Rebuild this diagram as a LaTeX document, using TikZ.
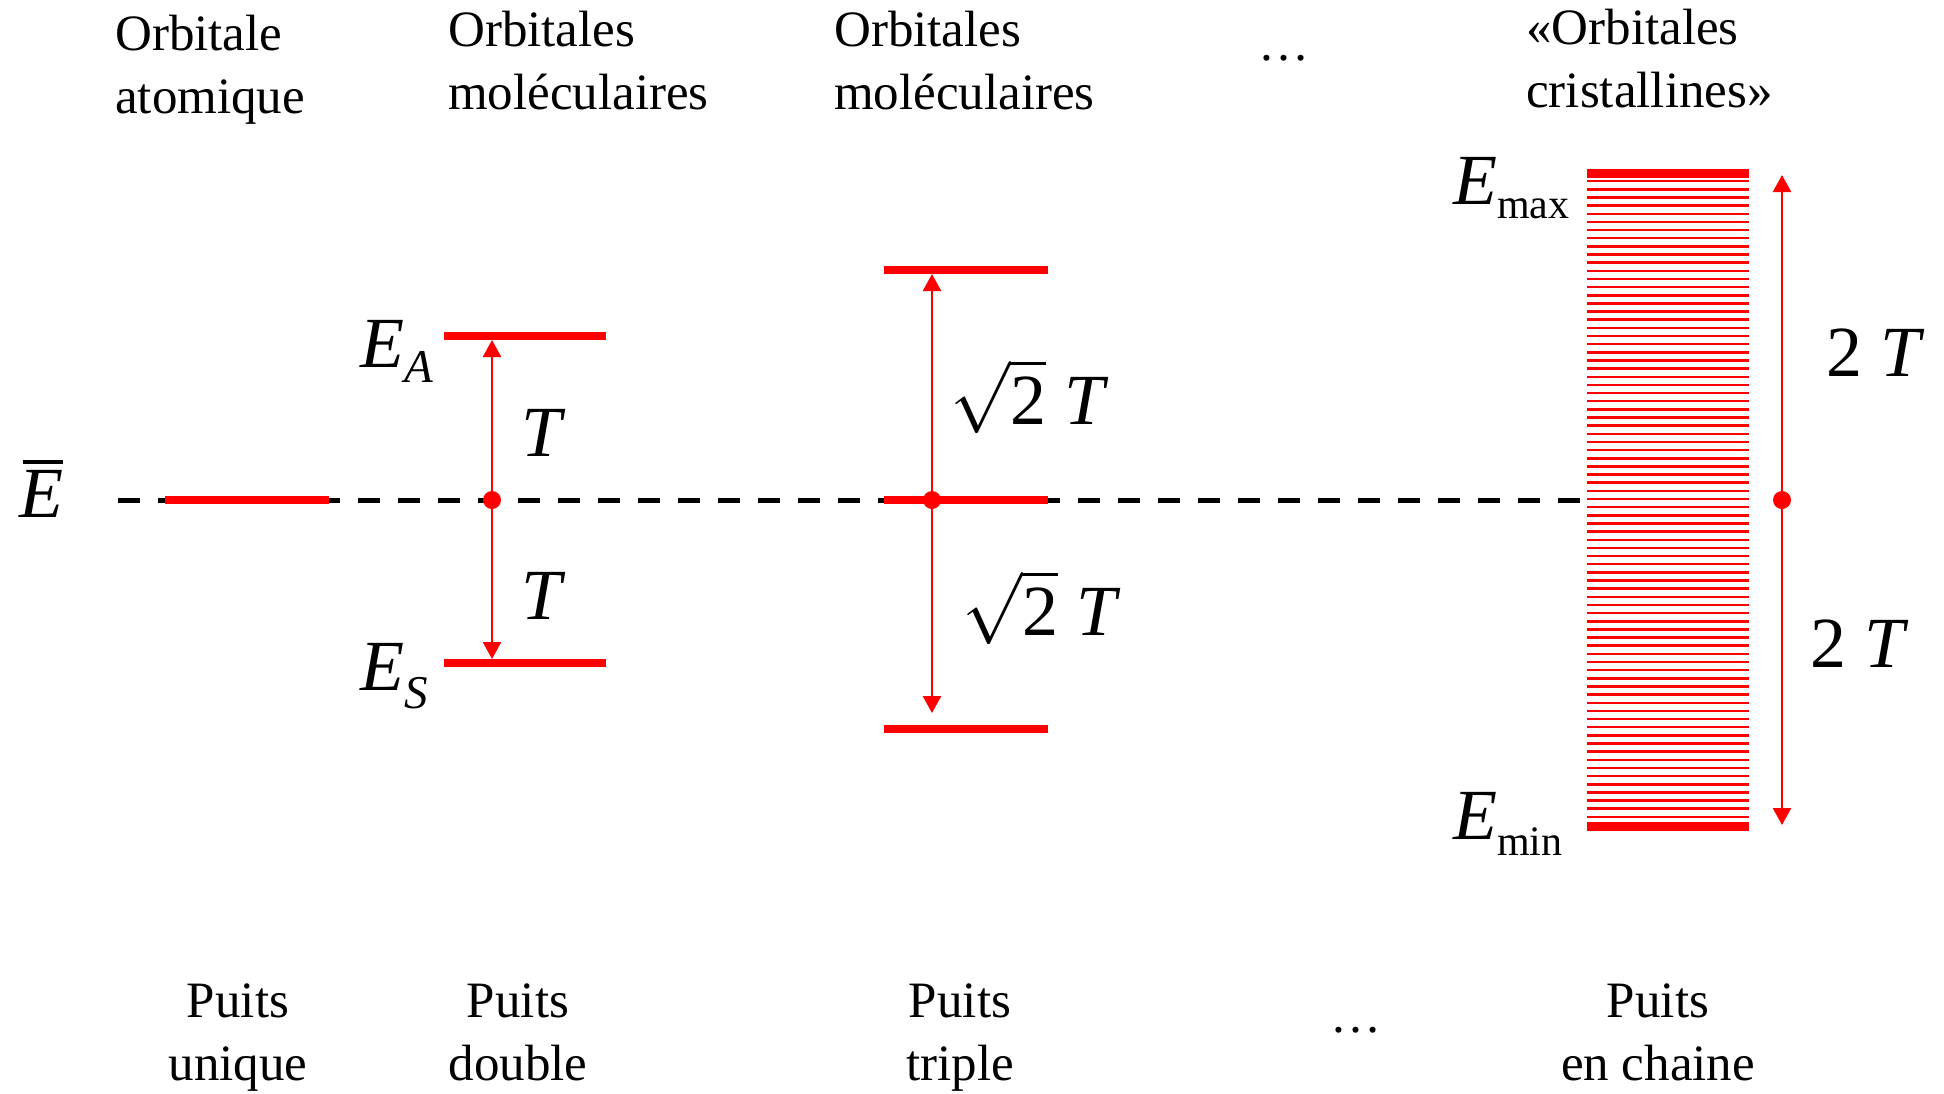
\RequirePackage{fix-cm}
\documentclass[tikz,border=0pt]{standalone}
\usepackage{amsmath}
\usepackage{fontspec}
\setmainfont{Liberation Serif}
\usetikzlibrary{arrows.meta}
\tikzset{
  lbl/.style={font=\fontsize{51}{63}\selectfont, inner sep=0pt},
  mth/.style={font=\fontsize{72}{80}\selectfont, inner sep=0pt, anchor=base west},
  lvl/.style={red, line width=8pt},
  band/.style={red, line width=2.5pt},
  bandedge/.style={red, line width=9pt},
  conn/.style={red, line width=2.5pt, -{Triangle[width=18pt,length=17pt]}},
  rdot/.style={circle, fill=red, inner sep=0pt, minimum size=18pt},
  ref/.style={black, line width=5pt, dash pattern=on 22pt off 18pt}
}
\begin{document}
\begin{tikzpicture}[x=1pt,y=-1pt]
\useasboundingbox[fill=white] (0,0) rectangle (1944,1093);
% reference energy line
\coordinate (dL) at (118,500);
\coordinate (dR) at (1585,500);
\draw[ref] (dL) -- (dR);
% single well
\coordinate (s1) at (165,500); \coordinate (s2) at (329,500);
\draw[lvl] (s1) -- (s2);
% double well
\coordinate (a1) at (444,336); \coordinate (a2) at (606,336);
\coordinate (b1) at (444,663); \coordinate (b2) at (606,663);
\draw[lvl] (a1) -- (a2);
\draw[lvl] (b1) -- (b2);
% triple well
\coordinate (t1) at (884,270); \coordinate (t2) at (1048,270);
\coordinate (m1) at (884,500); \coordinate (m2) at (1048,500);
\coordinate (u1) at (884,729); \coordinate (u2) at (1048,729);
\draw[lvl] (t1) -- (t2);
\draw[lvl] (m1) -- (m2);
\draw[lvl] (u1) -- (u2);
% band
\foreach \i in {1,...,79} {
  \draw[band] (1587,{173+\i*8.15}) -- (1749,{173+\i*8.15});
}
\coordinate (bt1) at (1587,173); \coordinate (bt2) at (1749,173);
\coordinate (bb1) at (1587,826); \coordinate (bb2) at (1749,826);
\draw[bandedge] (bt1) -- (bt2);
\draw[bandedge] (bb1) -- (bb2);
% dots
\node[rdot] (d2) at (492,500) {};
\node[rdot] (d3) at (932,500) {};
\node[rdot] (d4) at (1782,500) {};
% arrow ends
\coordinate (eA) at (492,340);
\coordinate (eS) at (492,659);
\coordinate (eT) at (932,274);
\coordinate (eU) at (932,713);
\coordinate (eMax) at (1782,175);
\coordinate (eMin) at (1782,825);
\draw[conn] (d2) -- (eA);
\draw[conn] (d2) -- (eS);
\draw[conn] (d3) -- (eT);
\draw[conn] (d3) -- (eU);
\draw[conn] (d4) -- (eMax);
\draw[conn] (d4) -- (eMin);
% math labels
\node[mth] (Ebar) at (19,517) {\textit{E}\llap{\raisebox{53pt}{\rule{40pt}{4pt}}}};
\node[mth] (EA) at (360,367) {\textit{E}\raisebox{-15pt}{\fontsize{47}{47}\selectfont\textit{A}}};
\node[mth] (ES) at (360,690) {\textit{E}\raisebox{-18pt}{\fontsize{47}{47}\selectfont\textit{S}}};
\node[mth] (Emax) at (1453,204) {\textit{E}\raisebox{-14pt}{\fontsize{42}{42}\selectfont max}};
\node[mth] (Emin) at (1453,839) {\textit{E}\raisebox{-16pt}{\fontsize{42}{42}\selectfont min}};
\node[mth] (T1) at (521,456) {\textit{T}};
\node[mth] (T2) at (521,619) {\textit{T}};
\node[mth] (R1) at (950,424) {$\sqrt{\hbox{2}}$ \textit{T}};
\node[mth] (R2) at (962,635) {$\sqrt{\hbox{2}}$ \textit{T}};
\node[mth] (W1) at (1826,376) {2 \textit{T}};
\node[mth] (W2) at (1810,667) {2 \textit{T}};
% top labels (anchor = baseline of last line)
\node[lbl, align=left, anchor=base west] (h1) at (115,113) {Orbitale\\atomique};
\node[lbl, align=left, anchor=base west] (h2) at (448,109) {Orbitales\\moléculaires};
\node[lbl, align=left, anchor=base west] (h3) at (834,109) {Orbitales\\moléculaires};
\node[lbl, anchor=base west] (h4) at (1258,60) {…};
\node[lbl, align=left, anchor=base west] (h5) at (1526,107) {«Orbitales\\cristallines»};
% bottom labels
\node[lbl, align=center, anchor=base] (f1) at (238,1080) {Puits\\unique};
\node[lbl, align=center, anchor=base] (f2) at (518,1080) {Puits\\double};
\node[lbl, align=center, anchor=base] (f3) at (960,1080) {Puits\\triple};
\node[lbl, anchor=base] (f4) at (1356,1032) {…};
\node[lbl, align=center, anchor=base] (f5) at (1658,1080) {Puits\\en chaine};
\end{tikzpicture}
\end{document}
